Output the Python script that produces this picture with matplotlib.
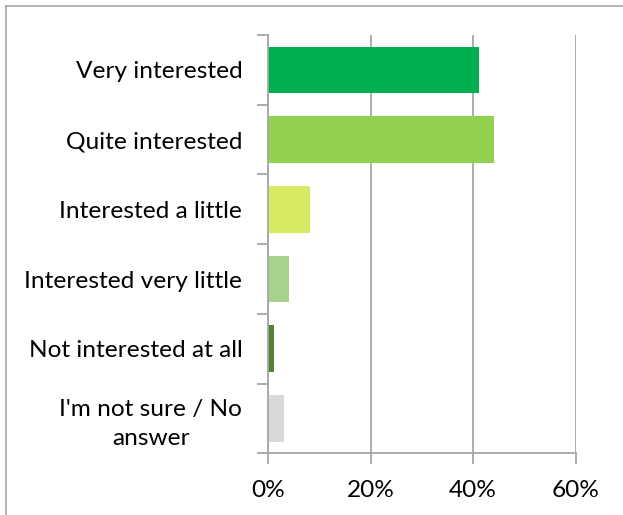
import matplotlib
matplotlib.use("Agg")
import matplotlib.pyplot as plt
from matplotlib.ticker import FixedLocator, FuncFormatter
from matplotlib.lines import Line2D

categories = ["Very interested", "Quite interested", "Interested a little",
              "Interested very little", "Not interested at all",
              "I'm not sure / No\nanswer"]
values = [41.1, 44.0, 8.1, 4.0, 1.1, 3.1]
colors = ["#00B050", "#92D050", "#D9EA64", "#A9D18E", "#548235", "#D9D9D9"]
xticks = [0, 20, 40, 60]

plt.rcParams['font.family'] = ['Lato', 'DejaVu Sans']

fig = plt.figure(figsize=(6.23, 5.15), dpi=100)
W, H = 623, 515
ax = fig.add_axes([268/W, 1-453.3/H, (575.7-268)/W, (453.3-35)/H])

ypos = list(range(len(categories)))
ax.barh(ypos, values, height=0.67, color=colors, zorder=3)
ax.set_xlim(0, 60)
ax.set_ylim(len(categories)-0.5, -0.5)

grid_c = "#A6A6A6"
ax.xaxis.set_major_locator(FixedLocator(xticks))
ax.xaxis.set_major_formatter(FuncFormatter(lambda v, p: f"{v:.0f}%"))
ax.grid(axis='x', color=grid_c, linewidth=1.3, zorder=0)

for s in ['top', 'right']:
    ax.spines[s].set_visible(False)
for s in ['left', 'bottom']:
    ax.spines[s].set_color(grid_c)
    ax.spines[s].set_linewidth(1.3)
    ax.spines[s].set_zorder(4)

ax.set_yticks(ypos)
labels = ax.set_yticklabels(categories, ha='right', multialignment='center')
for t in labels:
    t.set_linespacing(1.45)
ax.set_yticks([i - 0.5 for i in range(len(categories)+1)], minor=True)
ax.tick_params(axis='y', which='major', length=0, pad=18.5, labelsize=17.6, labelcolor='black')
ax.tick_params(axis='y', which='minor', length=8, width=1.3, color=grid_c, direction='out')
ax.tick_params(axis='x', length=8, width=1.3, color=grid_c, direction='out', pad=11,
               labelsize=17.6, labelcolor='black')

fig.add_artist(Line2D([5.5/W, 5.5/W], [0, 1-6/H], transform=fig.transFigure, color="#A6A6A6", lw=1.2))
fig.add_artist(Line2D([5.5/W, 1], [1-6/H, 1-6/H], transform=fig.transFigure, color="#A6A6A6", lw=1.2))

fig.savefig("out.png", dpi=100)
